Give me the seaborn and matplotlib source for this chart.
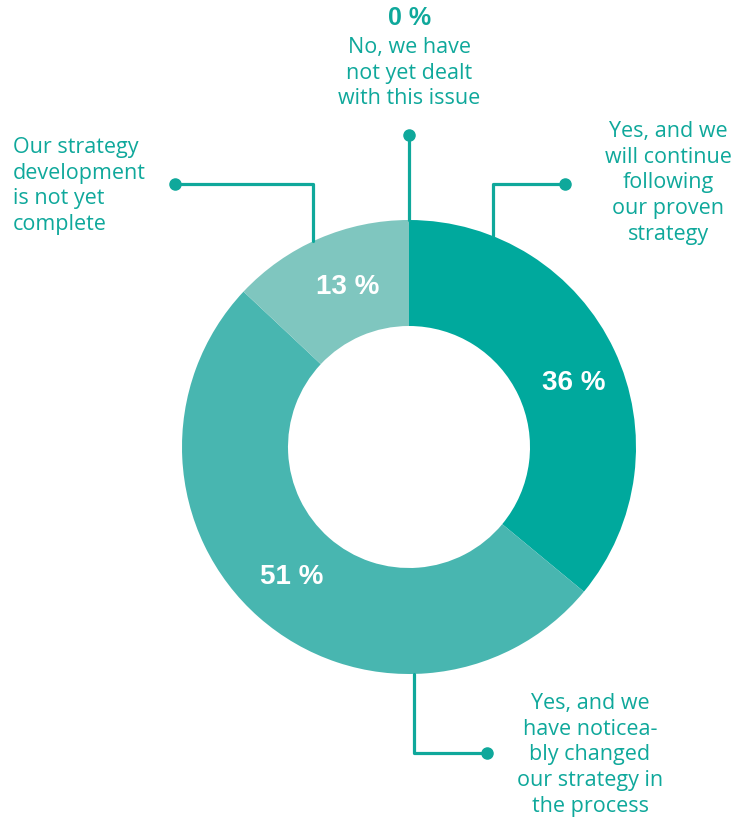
import numpy as np
import matplotlib
matplotlib.use("Agg")
import matplotlib.pyplot as plt
import seaborn as sns

# ---- data ----
categories = [
    "Yes, and we\nwill continue\nfollowing\nour proven\nstrategy",
    "Yes, and we\nhave noticea-\nbly changed\nour strategy in\nthe process",
    "Our strategy\ndevelopment\nis not yet\ncomplete",
    "No, we have\nnot yet dealt\nwith this issue",
]
values = [36, 51, 13, 0]
pct_labels = ["36 %", "51 %", "13 %", "0 %"]
colors = ["#00A99D", "#48B6B0", "#7FC6BF", "#00A99D"]

TEAL = "#0FA89B"
W, H = 736, 823

sns.set_theme(style="white")
plt.rcParams["font.family"] = ["Open Sans", "DejaVu Sans"]

fig = plt.figure(figsize=(W / 100, H / 100), dpi=100)
ax = fig.add_axes([0, 0, 1, 1])

def Y(py):
    return H - py

cx, cy = 409, Y(447)
R, r_in = 227, 121

wedges, _ = ax.pie(values, colors=colors, startangle=90, counterclock=False,
                   center=(cx, cy), radius=R, frame=True,
                   wedgeprops=dict(width=R - r_in, linewidth=0))
ax.set_xlim(0, W)
ax.set_ylim(0, H)
ax.set_aspect("equal")
ax.axis("off")

# percentage labels inside ring
pct_pos = [(574, 383), (292, 577), (348, 287)]
for (px, py), lab in zip(pct_pos, pct_labels[:3]):
    ax.text(px, Y(py), lab, ha="center", va="center", color="white",
            fontsize=20, fontweight="bold", family=["Liberation Sans", "DejaVu Sans"])

# top "0 %" label
ax.text(410, Y(18), pct_labels[3], ha="center", va="center", color=TEAL,
        fontsize=18, fontweight="bold", family=["Liberation Sans", "DejaVu Sans"])

def ring_y(x, top=True):
    dy = np.sqrt(R ** 2 - (x - cx) ** 2)
    return cy + dy if top else cy - dy

lw = 2.3
ms = 8

# category texts
txt_kw = dict(color=TEAL, fontsize=15.5, linespacing=1.29)
ax.text(668, Y(121), categories[0], ha="center", va="top", **txt_kw)
ax.text(590, Y(693), categories[1], ha="center", va="top", **txt_kw)
ax.text(13, Y(137), categories[2], ha="left", va="top", **txt_kw)
ax.text(409, Y(37), categories[3], ha="center", va="top", **txt_kw)

# connectors
# right top
ax.plot([565, 493, 493], [Y(184), Y(184), ring_y(493)], color=TEAL, lw=lw)
ax.plot([565], [Y(184)], "o", color=TEAL, ms=ms)
# bottom right
ax.plot([487, 414, 414], [Y(753), Y(753), ring_y(414, top=False)], color=TEAL, lw=lw)
ax.plot([487], [Y(753)], "o", color=TEAL, ms=ms)
# left
ax.plot([175, 313, 313], [Y(184), Y(184), ring_y(313)], color=TEAL, lw=lw)
ax.plot([175], [Y(184)], "o", color=TEAL, ms=ms)
# top
ax.plot([409, 409], [Y(135), ring_y(409)], color=TEAL, lw=lw)
ax.plot([409], [Y(135)], "o", color=TEAL, ms=ms)

fig.savefig("out.png", dpi=100, facecolor="white")
